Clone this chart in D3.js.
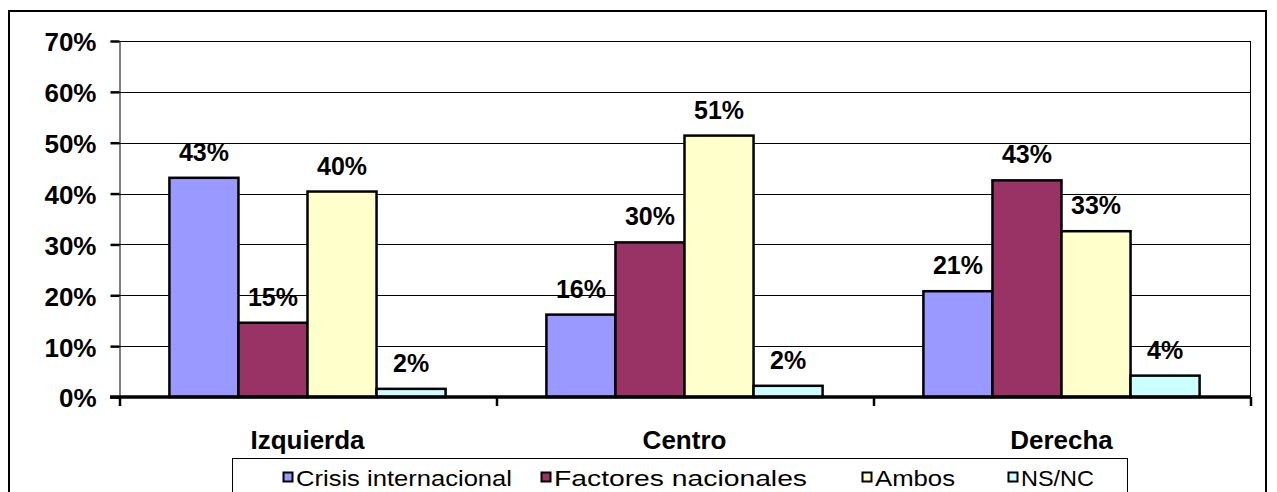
<!DOCTYPE html>
<html>
<head>
<meta charset="utf-8">
<script src="https://cdn.jsdelivr.net/npm/d3@7"></script>
<style>
  html, body { margin: 0; padding: 0; background: #fff; }
  svg { display: block; }
  text { font-family: Arial, "Liberation Sans", sans-serif; fill: #000; }
</style>
</head>
<body>
<svg id="chart" width="1277" height="492"></svg>
<script>
const categories = ["Izquierda", "Centro", "Derecha"];
const seriesNames = ["Crisis internacional", "Factores nacionales", "Ambos", "NS/NC"];
const seriesColors = ["#9999FF", "#993366", "#FFFFCC", "#CCFFFF"];
const crisisInternacional = [43.1, 16.2, 20.8];
const factoresNacionales = [14.6, 30.4, 42.6];
const ambos = [40.4, 51.4, 32.6];
const nsnc = [1.6, 2.2, 4.2];
const yTicks = [0, 10, 20, 30, 40, 50, 60, 70];

const seriesValues = [crisisInternacional, factoresNacionales, ambos, nsnc];
const data = categories.map((c, i) => ({
  cat: c,
  vals: seriesNames.map((s, j) => ({ s, j, v: seriesValues[j][i] }))
}));

const svg = d3.select("#chart");

// outer frame
svg.append("rect").attr("x", 9).attr("y", 11).attr("width", 1257).attr("height", 500)
  .attr("fill", "none").attr("stroke", "#000").attr("stroke-width", 2);

const plot = { left: 119, right: 1250, top: 41, bottom: 397 };

const y = d3.scaleLinear().domain([0, 70]).range([plot.bottom, plot.top]);
const x0 = d3.scaleBand().domain(categories).range([plot.left, plot.right]).padding(0);
const x1 = d3.scaleBand().domain(seriesNames).range([0, x0.bandwidth()])
  .paddingInner(0).paddingOuter(0.73);

// gridlines
svg.append("g").selectAll("line").data(yTicks.filter(t => t > 0)).join("line")
  .attr("x1", plot.left).attr("x2", plot.right)
  .attr("y1", d => Math.round(y(d)) + 0.5).attr("y2", d => Math.round(y(d)) + 0.5)
  .attr("stroke", "#000").attr("stroke-width", 1);

// plot right border
svg.append("line").attr("x1", plot.right + 0.5).attr("x2", plot.right + 0.5)
  .attr("y1", plot.top).attr("y2", plot.bottom).attr("stroke", "#000").attr("stroke-width", 1);

// Y axis
const yAxis = d3.axisLeft(y).tickValues(yTicks).tickSize(9).tickPadding(14)
  .tickFormat(d => d + "%");
const gy = svg.append("g").attr("transform", `translate(${plot.left + 0.5},0)`).call(yAxis);
gy.select(".domain").attr("stroke", "#000").attr("stroke-width", 1);
gy.selectAll(".tick line").attr("stroke", "#000").attr("stroke-width", 2.5);
gy.selectAll(".tick text")
  .style("font-family", "Arial, 'Liberation Sans', sans-serif")
  .style("font-size", "26px").style("font-weight", "bold").attr("dy", "0.38em")
  .attr("fill", "#000");

// bars
const groups = svg.append("g").selectAll("g").data(data).join("g")
  .attr("transform", d => `translate(${x0(d.cat)},0)`);

groups.selectAll("rect").data(d => d.vals).join("rect")
  .attr("x", d => x1(d.s))
  .attr("y", d => y(d.v))
  .attr("width", x1.bandwidth())
  .attr("height", d => y(0) - y(d.v))
  .attr("fill", d => seriesColors[d.j])
  .attr("stroke", "#000").attr("stroke-width", 2.5);

groups.selectAll("text").data(d => d.vals).join("text")
  .attr("x", d => x1(d.s) + x1.bandwidth() / 2)
  .attr("y", d => y(d.v) - 17)
  .attr("text-anchor", "middle")
  .style("font-size", "25px").style("font-weight", "bold")
  .text(d => Math.round(d.v) + "%");

// X axis
const xAxis = d3.axisBottom(x0).tickSize(0).tickFormat("");
const gx = svg.append("g").attr("transform", `translate(0,${plot.bottom})`).call(xAxis);
gx.select(".domain").remove();
gx.append("line").attr("x1", 110).attr("x2", plot.right).attr("y1", 0).attr("y2", 0)
  .attr("stroke", "#000").attr("stroke-width", 3.5);
const boundaries = categories.map(c => x0(c)).concat([plot.right]);
gx.selectAll("line.bt").data(boundaries).join("line").attr("class", "bt")
  .attr("x1", d => d + 1).attr("x2", d => d + 1).attr("y1", 0).attr("y2", 9)
  .attr("stroke", "#000").attr("stroke-width", 2.5);
gx.selectAll("text.cl").data(categories).join("text").attr("class", "cl")
  .attr("x", d => x0(d) + x0.bandwidth() / 2)
  .attr("y", 52)
  .attr("text-anchor", "middle")
  .style("font-size", "26px").style("font-weight", "bold")
  .text(d => d);

// legend
const lg = svg.append("g");
lg.append("rect").attr("x", 232.5).attr("y", 458.5).attr("width", 895).attr("height", 60)
  .attr("fill", "#fff").attr("stroke", "#000").attr("stroke-width", 1);
const legendX = [283, 541, 862, 1008];
const legendW = [216, 253, 80, 73];
const items = lg.selectAll("g").data(seriesNames).join("g")
  .attr("transform", (d, i) => `translate(${legendX[i]},0)`);
items.append("rect").attr("x", 0.5).attr("y", 472.5).attr("width", 9).attr("height", 9)
  .attr("fill", (d, i) => seriesColors[i]).attr("stroke", "#000").attr("stroke-width", 2);
items.append("text").attr("x", 13).attr("y", 486)
  .style("font-size", "22px")
  .attr("textLength", (d, i) => legendW[i])
  .attr("lengthAdjust", "spacingAndGlyphs")
  .text(d => d);
</script>
</body>
</html>
